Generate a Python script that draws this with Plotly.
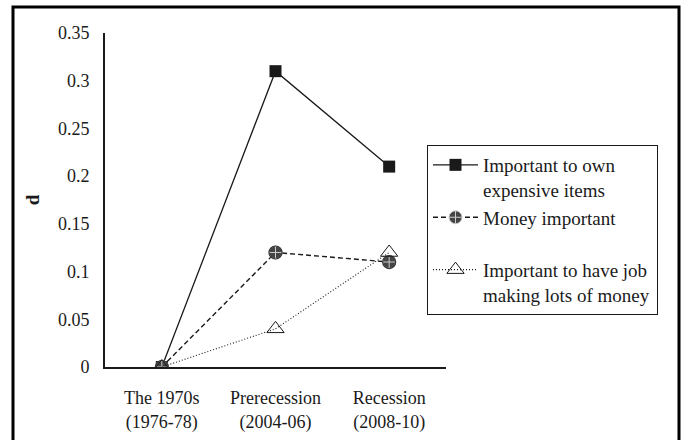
import plotly.graph_objects as go

categories = ["The 1970s<br>(1976-78)", "Prerecession<br>(2004-06)", "Recession<br>(2008-10)"]
own_expensive = [0, 0.31, 0.21]
money_important = [0, 0.12, 0.11]
job_lots_money = [0, 0.04, 0.12]
y_ticks = [0, 0.05, 0.1, 0.15, 0.2, 0.25, 0.3, 0.35]

FONT = "Liberation Serif"

fig = go.Figure()
fig.add_trace(go.Scatter(
    x=categories, y=own_expensive, mode="lines+markers",
    name="Important to own<br>expensive items", legendgroup="a",
    line=dict(color="#1a1a1a", width=1.3),
    marker=dict(symbol="square", size=12, color="#1a1a1a"),
))
fig.add_trace(go.Scatter(
    x=categories, y=money_important, mode="lines+markers",
    name="Money important<br> ", legendgroup="b",
    line=dict(color="#1a1a1a", width=1.4, dash="5px,3px"),
    marker=dict(symbol="circle-cross", size=13, color="#444444",
                line=dict(color="#cccccc", width=1)),
))
fig.add_trace(go.Scatter(
    x=categories, y=money_important, mode="markers", showlegend=False,
    hoverinfo="skip",
    marker=dict(symbol="circle-open", size=13, color="#333333",
                line=dict(width=1.2)),
))
fig.add_trace(go.Scatter(
    x=categories, y=job_lots_money, mode="lines+markers",
    name="Important to have job&nbsp;<br>making lots of money", legendgroup="c",
    line=dict(color="#1a1a1a", width=1.1, dash="1px,2px"),
    marker=dict(symbol="triangle-up-open", size=15, color="#1a1a1a",
                line=dict(width=1)),
))

L, R, T, B = 105, 240, 33, 73
W, H = 686, 440
pw, ph = W - L - R, H - T - B

def px_x(p):
    return (p - L) / pw

def px_y(p):
    return (H - B - p) / ph

fig.update_layout(
    width=W, height=H,
    margin=dict(l=L, r=R, t=T, b=B),
    paper_bgcolor="white", plot_bgcolor="white",
    font=dict(family=FONT, size=18, color="#1a1a1a"),
    showlegend=True,
    legend=dict(
        x=px_x(427), y=px_y(145), xanchor="left", yanchor="top",
        bordercolor="#1a1a1a", borderwidth=1, bgcolor="white",
        valign="top", traceorder="grouped", tracegroupgap=0,
        itemwidth=45,
        font=dict(family=FONT, size=19, color="#1a1a1a"),
    ),
    xaxis=dict(
        showline=True, linecolor="#1a1a1a", linewidth=1.6,
        showgrid=False, zeroline=False, ticks="", automargin=False,
        range=[-0.5, 2.5], tickfont=dict(family=FONT, size=18),
        ticklabelstandoff=14,
    ),
    yaxis=dict(
        showline=True, linecolor="#1a1a1a", linewidth=1.6,
        showgrid=False, zeroline=False, ticks="", automargin=False,
        range=[0, 0.35], tickvals=y_ticks,
        ticktext=[f"{v:g}" for v in y_ticks],
        tickfont=dict(family=FONT, size=18),
        ticklabelstandoff=10,
        title=dict(text="<b>d</b>", font=dict(family=FONT, size=19), standoff=13),
    ),
    shapes=[dict(
        type="rect", xref="paper", yref="paper",
        x0=px_x(13), x1=px_x(679), y0=px_y(452), y1=px_y(7),
        line=dict(color="black", width=3), fillcolor="rgba(0,0,0,0)",
        layer="above",
    )],
)

fig.write_html("out.html", post_script="document.body.style.margin='0';",
               config={"displayModeBar": False})
